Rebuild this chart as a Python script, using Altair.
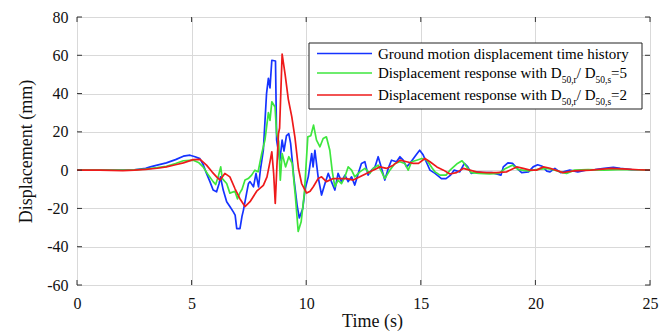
import altair as alt
import pandas as pd

# ---------------- data ----------------
blue_t = [0, 1, 2, 2.5, 3.0, 3.2, 3.5, 3.9, 4.3, 4.64, 4.93, 5.15, 5.36, 5.5, 5.65, 5.8, 5.94, 6.09, 6.2, 6.26,
          6.38, 6.53, 6.67, 6.82, 6.9, 6.97, 7.11, 7.2, 7.26, 7.4, 7.48, 7.55, 7.7, 7.81, 7.92, 8.0, 8.13, 8.27,
          8.35, 8.42, 8.5, 8.66, 8.71, 8.85, 8.95, 9.03, 9.14, 9.24, 9.32, 9.47, 9.61, 9.7, 9.85, 9.95, 10.09,
          10.24, 10.3, 10.38, 10.52, 10.67, 10.82, 10.96, 11.1, 11.25, 11.39, 11.54, 11.69, 11.83, 11.98, 12.12,
          12.27, 12.41, 12.56, 12.7, 12.85, 13.0, 13.14, 13.29, 13.43, 13.58, 13.72, 13.94, 14.09, 14.23, 14.38,
          14.52, 14.8, 14.95, 15.1, 15.25, 15.4, 15.62, 15.9, 16.1, 16.3, 16.45, 16.7, 16.9, 17.05, 17.2, 17.4,
          17.7, 18.1, 18.5, 18.6, 18.8, 19.0, 19.2, 19.4, 19.7, 19.9, 20.1, 20.3, 20.5, 20.64, 20.85, 21.1, 21.5,
          21.85, 22.2, 22.6, 23.0, 23.4, 23.7, 24.2, 24.6, 25.0]
blue_v = [0, 0, 0, 0.2, 0.9, 1.7, 2.6, 3.8, 5.5, 7.3, 7.8, 7.0, 6.0, 3.0, -1.7, -6, -10.4, -11.3, -7, -3.5,
          -10.4, -16.5, -19, -21.8, -23.5, -30.5, -30.5, -24, -21, -12, -7, -6, -8.7, -1.7, -8.7, 0, 10.4, 40,
          48, 43, 57.4, 57, 15.7, 5, 15.7, 10, 18, 19, 14, -5, -19, -25, -20, -10, -3.5,
          8.7, 1.7, 10.4, -3.5, -13, -7, -1.7, -6, -10.4, -1.7, -6, -2.6, -6, -3.5, -7.8,
          -1.7, 3.5, 4.4, -2.6, 0, 1.7, 7, 0.9, -5.2, 0.9, 5.2, 4.4, 7, 5.2, 1.7,
          3.5, 8, 10.4, 8, 4, 0, -1.7, -4.4, -4.4, -2.6, 0, -0.9, 3.5, 1.7, -1.7, -0.9,
          -1.3, -1.3, -2.6, 1.7, 3.8, 3.5, 0.9, -1.3, -0.9, 1.7, 2.8, 2.0, -0.5, -0.9, 0.9, -1.3, 0,
          -0.9, 0, 0.3, 0.9, 1.4, 0.9, 0.3, 0.2, 0]

green_t = [0, 1, 2, 2.5, 3.0, 3.5, 3.9, 4.3, 4.64, 5.07, 5.3, 5.5, 5.7, 5.94, 6.05, 6.16, 6.27, 6.34, 6.53,
           6.67, 6.89, 7.0, 7.1, 7.2, 7.33, 7.47, 7.62, 7.76, 7.9, 8.06, 8.2, 8.35, 8.42, 8.5, 8.64, 8.71, 8.8,
           8.87, 8.95, 9.1, 9.24, 9.39, 9.53, 9.65, 9.78, 9.92, 10.07, 10.2, 10.32, 10.45, 10.6, 10.74, 10.88,
           11.03, 11.14, 11.25, 11.39, 11.54, 11.69, 11.83, 11.98, 12.12, 12.34, 12.56, 12.78, 12.92, 13.14,
           13.29, 13.43, 13.65, 13.87, 14.09, 14.3, 14.45, 14.6, 14.82, 15.05, 15.27, 15.5, 15.62, 15.84, 16.1,
           16.3, 16.6, 16.8, 16.95, 17.2, 17.55, 18.0, 18.4, 18.7, 19.0, 19.25, 19.7, 20.05, 20.5, 20.85, 21.1,
           21.36, 21.7, 22.3, 23.0, 23.6, 24.3, 25.0]
green_v = [0, 0, 0, 0.1, 0.6, 1.3, 2, 3.5, 4.9, 5.2, 4.0, 1.7, -2, -6, -7.5, -3.5, 1.7, -4.4, -7,
           -12, -11, -15, -12, -10, -5.2, -4.4, -2.6, 0, -0.9, 8.7, 15.7, 30, 26, 35.7, 33, 19, 15,
           -5.2, 8.7, 1.7, 7, 3.5, -14, -32, -27, -12, 17.4, 18, 23.5, 15.7, 12.2, 16.5, 17.4,
           10.4, -0.9, -8.7, -5.2, -7, -3.5, 1.7, 0, -3.5, -0.9, 0.9, -1.7, 0.9, 2.6,
           -0.9, -4.4, 0, 3.5, 4.4, 3.5, 0, 4.4, 5.2, 6.1, 5.2, 1, -0.9, -2.6, -2.6,
           0.3, 3.5, 4.9, 2.6, -1.3, -1.7, -2, -1.7, 0.9, 2.6, 0.3, -0.4, 0.3, 0.9, 0, -1,
           -1.7, 0, 0.3, 0, 0.3, 0.2, 0]

red_t = [0, 1, 2, 2.5, 3.0, 3.5, 3.9, 4.3, 4.64, 5.07, 5.37, 5.65, 5.9, 6.09, 6.24, 6.45, 6.67, 6.89, 7.1,
         7.33, 7.55, 7.84, 8.13, 8.29, 8.43, 8.5, 8.58, 8.65, 8.72, 8.79, 8.84, 8.95, 9.08, 9.22, 9.37, 9.51,
         9.66, 9.8, 10.02, 10.17, 10.31, 10.52, 10.67, 10.88, 11.18, 11.47, 11.76, 12.05, 12.34, 12.63, 12.92,
         13.22, 13.5, 13.8, 14.09, 14.38, 14.67, 14.9, 15.18, 15.4, 15.7, 15.99, 16.27, 16.56, 16.85, 17.14,
         17.43, 17.87, 18.3, 18.74, 19.18, 19.47, 19.76, 20.05, 20.35, 20.64, 21.2, 21.5, 21.7, 22.4, 23.3,
         24.0, 24.5, 25.0]
red_v = [0, 0, -0.2, 0, 0.4, 1.0, 1.7, 2.8, 3.8, 5.5, 5.6, 2.6, -1, -3.5, -5.2, -1.7, -3.5, -9.6, -14.8,
         -19, -16.5, -11, -8, -3.5, 5, 9.6, -1.7, -17.4, 1.7, 19, 22, 60.6, 50, 37, 28, 17,
         1, -7, -12, -11, -8.7, -4.4, -3.5, -6, -4.4, -4.4, -4.4, -5.2, -3.5, -1.7, 0,
         1.7, 0.9, 2.6, 5.2, 4.4, 3.5, 3.5, 6.1, 4.4, 1.7, 0, -2, -1.3, 0.9, 0,
         -0.9, -1.3, -1.3, -0.9, 1.7, 0.9, 0, 0, 1.7, 1, -1.3, -0.7, -0.4, 0, 0.9,
         0.5, 0.2, 0]

x_ticks = [0, 5, 10, 15, 20, 25]
y_ticks = [-60, -40, -20, 0, 20, 40, 60, 80]

legend_first = "Ground motion displacement time history"
legend_prefix = "Displacement response with D"
legend_sub1 = "50,r"
legend_mid = "/ D"
legend_sub2 = "50,s"
legend_ends = ["=5", "=2"]

# ---------------- styling ----------------
FONT = "Liberation Serif"
W, H = 573, 268
BLUE, GREEN, RED = "#1533ff", "#3ee63e", "#ee1a1a"

# Times / Liberation Serif advance widths (per 1000 em) for legend layout
TW = {' ': 250, 'D': 722, 'i': 278, 's': 389, 'p': 500, 'l': 278, 'a': 444, 'c': 444, 'e': 444,
      'm': 778, 'n': 500, 't': 278, 'r': 333, 'o': 500, 'w': 722, 'h': 500, '/': 278, '=': 564,
      '5': 500, '0': 500, ',': 250, '2': 500}


def tw(s, size):
    return sum(TW.get(ch, 500) for ch in s) * size / 1000.0


xs = alt.Scale(domain=[0, 25], nice=False, zero=False)
ys = alt.Scale(domain=[-60, 80], nice=False, zero=False)
HYPHEN = "datum.value < 0 ? '-' + abs(datum.value) : '' + datum.value"

X_AXIS = alt.Axis(values=x_ticks, title="Time (s)", titleX=295, titlePadding=1, labelPadding=10)
Y_AXIS = alt.Axis(values=y_ticks, title="Displacement (mm)", titlePadding=11, labelPadding=9,
                  labelExpr=HYPHEN)


def series(t, v, color):
    df = pd.DataFrame({"t": t, "v": v})
    return alt.Chart(df).mark_line(color=color, strokeWidth=1.7, strokeJoin="round").encode(
        x=alt.X("t:Q", scale=xs, axis=X_AXIS),
        y=alt.Y("v:Q", scale=ys, axis=Y_AXIS),
    )


lines = series(blue_t, blue_v, BLUE) + series(green_t, green_v, GREEN) + series(red_t, red_v, RED)

# inward tick marks on all four sides
xt = pd.DataFrame({"t": x_ticks})
yt = pd.DataFrame({"v": y_ticks})
TK = dict(color="#333333", strokeWidth=1)
ticks = (
    alt.Chart(xt).mark_rule(**TK).encode(x=alt.X("t:Q", scale=xs, axis=X_AXIS), y=alt.value(H), y2=alt.value(H - 5))
    + alt.Chart(xt).mark_rule(**TK).encode(x=alt.X("t:Q", scale=xs, axis=X_AXIS), y=alt.value(0), y2=alt.value(5))
    + alt.Chart(yt).mark_rule(**TK).encode(y=alt.Y("v:Q", scale=ys, axis=Y_AXIS), x=alt.value(0), x2=alt.value(5))
    + alt.Chart(yt).mark_rule(**TK).encode(y=alt.Y("v:Q", scale=ys, axis=Y_AXIS), x=alt.value(W), x2=alt.value(W - 5))
)

# custom legend (labels need subscripts)
one = pd.DataFrame({"a": [0]})
LX0, LX1, LY0, LY1 = 232, 565, 26, 92
box = alt.Chart(one).mark_rect(fill="white", stroke="#222222", strokeWidth=1).encode(
    x=alt.value(LX0), x2=alt.value(LX1), y=alt.value(LY0), y2=alt.value(LY1))

row_y = [36.5, 56, 78]
colors = [BLUE, GREEN, RED]
SYM0, SYM1, TX = 240, 295, 301
MAIN, SUB = 15, 9.5
legend_layers = [box]
for i in range(3):
    legend_layers.append(alt.Chart(one).mark_rule(color=colors[i], strokeWidth=1.6).encode(
        x=alt.value(SYM0), x2=alt.value(SYM1), y=alt.value(row_y[i])))
    base_y = row_y[i] + 5
    if i == 0:
        legend_layers.append(alt.Chart(one).mark_text(
            text=legend_first, font=FONT, fontSize=MAIN, align="left", baseline="alphabetic",
            color="black").encode(x=alt.value(TX), y=alt.value(base_y)))
    else:
        pieces = [(legend_prefix, MAIN, 0), (legend_sub1, SUB, 5), (legend_mid, MAIN, 0),
                  (legend_sub2, SUB, 5), (legend_ends[i - 1], MAIN, 0)]
        x = TX
        for txt, size, dy in pieces:
            legend_layers.append(alt.Chart(one).mark_text(
                text=txt, font=FONT, fontSize=size, align="left", baseline="alphabetic",
                color="black").encode(x=alt.value(x), y=alt.value(base_y + dy)))
            x += tw(txt, size)

legend = alt.layer(*legend_layers)

chart = alt.layer(lines, ticks, legend).properties(
    width=W, height=H,
    autosize=alt.AutoSizeParams(type="none"),
    padding={"left": 77, "top": 17, "right": 20, "bottom": 48},
    background="white",
).configure_view(
    stroke="#333333", strokeWidth=1
).configure_axis(
    domain=False, ticks=False, grid=True, gridColor="#d9d9d9", gridWidth=1,
    labelFont=FONT, titleFont=FONT, labelFontSize=16, labelColor="#111111", titleColor="#111111",
    titleFontSize=18, titleFontWeight="normal", labelFlush=False, labelOverlap=False,
)

chart.save("out.html", embed_options={"renderer": "svg", "actions": False})
